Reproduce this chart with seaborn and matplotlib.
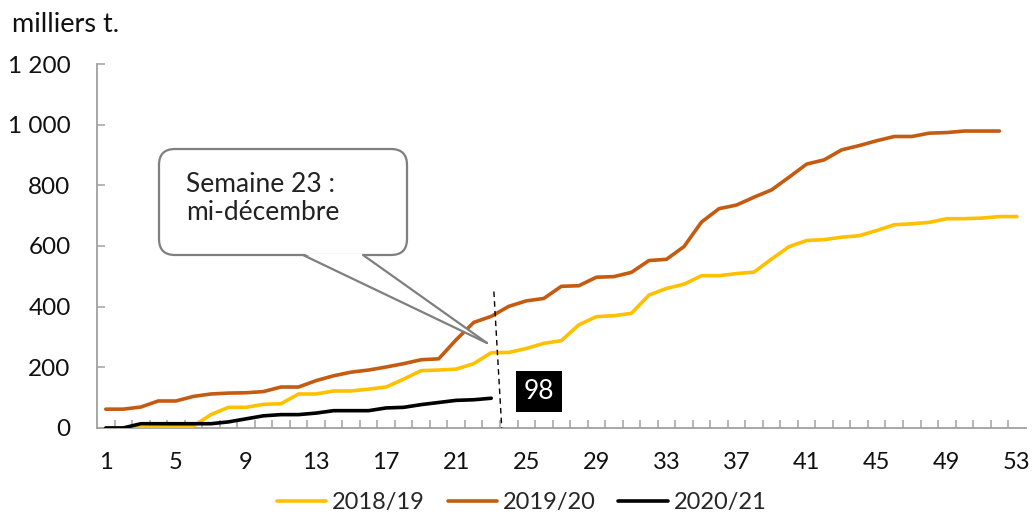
import pandas as pd
import seaborn as sb
import numpy as np
import matplotlib.pyplot as plt
from matplotlib.patches import FancyBboxPatch, Polygon
from matplotlib.lines import Line2D

# cumulative volumes per week (milliers t.)
campagnes = ['2018/19', '2019/20', '2020/21']
v_2018_19 = [0, 0, 1, 3, 5, 6, 44, 68, 68, 78, 80, 112, 112, 122, 122, 128, 135, 161, 189, 191,
             194, 212, 248, 249, 262, 279, 288, 340, 367, 370, 378, 438, 460, 474, 502, 502, 509, 514,
             557, 598, 618, 621, 629, 634, 651, 670, 673, 678, 690, 690, 692, 697, 697]
v_2019_20 = [62, 62, 69, 89, 89, 104, 112, 115, 116, 120, 135, 135, 156, 172, 184, 191, 201, 212,
             225, 228, 291, 348, 368, 401, 419, 427, 467, 469, 497, 499, 513, 552, 556, 598, 679, 723,
             735, 761, 785, 827, 870, 884, 917, 931, 947, 961, 961, 972, 974, 979, 979, 979]
v_2020_21 = [0, 0, 14, 14, 14, 14, 14, 20, 30, 40, 44, 44, 49, 57, 57, 57, 66, 68, 77, 84, 91, 93, 98]
week_ticks = list(range(1, 54, 4))
y_ticks = [0, 200, 400, 600, 800, 1000, 1200]
callout_text = 'Semaine 23 :\nmi-décembre'
last_value = '98'

colors = {'2018/19': '#FFC000', '2019/20': '#C55A11', '2020/21': '#000000'}
grey = '#a0a0a0'

frames = []
for name, vals in zip(campagnes, [v_2018_19, v_2019_20, v_2020_21]):
    frames.append(pd.DataFrame({'semaine': np.arange(1, len(vals) + 1), 'valeur': vals, 'campagne': name}))
df = pd.concat(frames, ignore_index=True)

sb.set_style('white')
plt.rcParams['font.family'] = ['Lato', 'DejaVu Sans']

fig = plt.figure(figsize=(10.33, 5.29), dpi=100)
ax = fig.add_axes([0.0939, 0.191, 0.899, 0.688])

sb.lineplot(data=df, x='semaine', y='valeur', hue='campagne', palette=colors,
            linewidth=2.6, ax=ax, legend=False, zorder=3)
for ln in ax.get_lines():
    ln.set_solid_capstyle('round')
    ln.set_solid_joinstyle('round')

ax.set_xlim(0.5, 53.5)
ax.set_ylim(0, 1200)
ax.set_xlabel(None)
ax.set_ylabel(None)

ax.set_xticks(week_ticks)
ax.set_xticks(np.arange(1.5, 53, 1), minor=True)
ax.set_yticks(y_ticks)
ax.set_yticklabels([f'{v:,}'.replace(',', ' ') for v in y_ticks])
ax.tick_params(axis='x', which='major', length=0, pad=17, labelsize=17, labelcolor='#111111')
ax.tick_params(axis='x', which='minor', direction='in', length=5.5, width=1.1, color=grey)
ax.tick_params(axis='y', which='major', direction='in', length=6, width=1.1, color=grey,
               pad=19, labelsize=17.5, labelcolor='#111111')
ax.tick_params(left=True, bottom=True, which='both')
for side in ['top', 'right']:
    ax.spines[side].set_visible(False)
for side in ['left', 'bottom']:
    ax.spines[side].set_color(grey)
    ax.spines[side].set_linewidth(1.3)

fig.text(0.012, 0.953, 'milliers t.', fontsize=19.5, va='center', ha='left', color='#111111')

# dashed marker around week 23
ax.plot([23.15, 23.6], [450, 0], color='black', lw=1, ls=(0, (4, 3)), zorder=4)

# value label of the current campaign
ax.text(25.74, 120, last_value, color='white', fontsize=19,
        ha='center', va='center', zorder=5,
        bbox=dict(boxstyle='square,pad=0.3', fc='black', ec='none'))

# callout box (figure inches)
tr = fig.dpi_scale_trans
box = FancyBboxPatch((1.59, 2.74), 2.48, 1.06, boxstyle='round,pad=0,rounding_size=0.16',
                     transform=tr, fc='white', ec='#7f7f7f', lw=1.6, zorder=6, clip_on=False)
ax.add_patch(box)
tip = (4.87, 1.86)
base_l, base_r = (3.03, 2.74), (3.63, 2.74)
tail = Polygon([(base_l[0] + 0.01, 2.755), tip, (base_r[0] - 0.01, 2.755)], closed=True,
               transform=tr, fc='white', ec='none', zorder=7, clip_on=False)
ax.add_patch(tail)
for b in (base_l, base_r):
    ax.add_line(Line2D([b[0], tip[0]], [b[1], tip[1]], transform=tr, color='#7f7f7f',
                       lw=1.6, zorder=8, clip_on=False))
fig.text(1.86, 3.30, callout_text, transform=tr, fontsize=19,
         va='center', ha='left', linespacing=1.15, color='#222222', zorder=9)

handles = [Line2D([], [], color=colors[c], lw=2.6) for c in campagnes]
fig.legend(handles, campagnes, loc='lower center', bbox_to_anchor=(0.505, -0.01), ncol=3,
           frameon=False, fontsize=17, handlelength=2.1, handletextpad=0.25, columnspacing=0.95)

plt.savefig('out.png', dpi=100)
